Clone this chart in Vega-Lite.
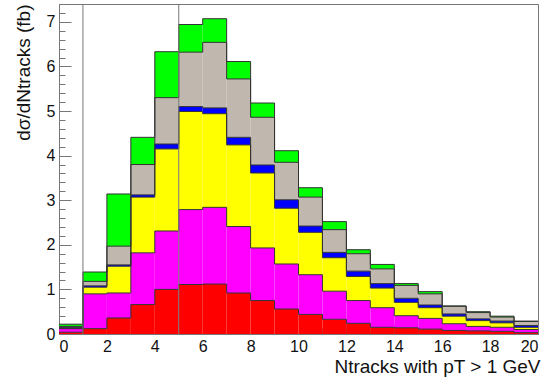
{
  "$schema": "https://vega.github.io/schema/vega-lite/v6.json",
  "width": 479,
  "height": 330,
  "autosize": "none",
  "padding": {"left": 59, "top": 4, "right": 7, "bottom": 51},
  "background": "white",
  "config": {
    "view": {"stroke": "#777", "strokeWidth": 1},
    "axis": {
      "labelFont": "Liberation Sans", "labelFontSize": 16, "labelColor": "#111",
      "titleFont": "Liberation Sans", "titleFontSize": 19, "titleFontWeight": "normal", "titleColor": "#111",
      "domainColor": "#777", "tickColor": "#777", "grid": false
    }
  },
  "data": {"values": [
    {"lo":0,"hi":1,"k":1,"v":0.04},{"lo":0,"hi":1,"k":2,"v":0.08},{"lo":0,"hi":1,"k":3,"v":0.01},{"lo":0,"hi":1,"k":4,"v":0.02},{"lo":0,"hi":1,"k":5,"v":0.02},{"lo":0,"hi":1,"k":6,"v":0.05},
    {"lo":1,"hi":2,"k":1,"v":0.12},{"lo":1,"hi":2,"k":2,"v":0.78},{"lo":1,"hi":2,"k":3,"v":0.15},{"lo":1,"hi":2,"k":4,"v":0.03},{"lo":1,"hi":2,"k":5,"v":0.10},{"lo":1,"hi":2,"k":6,"v":0.21},
    {"lo":2,"hi":3,"k":1,"v":0.36},{"lo":2,"hi":3,"k":2,"v":0.56},{"lo":2,"hi":3,"k":3,"v":0.60},{"lo":2,"hi":3,"k":4,"v":0.03},{"lo":2,"hi":3,"k":5,"v":0.42},{"lo":2,"hi":3,"k":6,"v":1.17},
    {"lo":3,"hi":4,"k":1,"v":0.66},{"lo":3,"hi":4,"k":2,"v":1.16},{"lo":3,"hi":4,"k":3,"v":1.25},{"lo":3,"hi":4,"k":4,"v":0.05},{"lo":3,"hi":4,"k":5,"v":0.68},{"lo":3,"hi":4,"k":6,"v":0.61},
    {"lo":4,"hi":5,"k":1,"v":1.00},{"lo":4,"hi":5,"k":2,"v":1.31},{"lo":4,"hi":5,"k":3,"v":1.84},{"lo":4,"hi":5,"k":4,"v":0.11},{"lo":4,"hi":5,"k":5,"v":1.04},{"lo":4,"hi":5,"k":6,"v":1.03},
    {"lo":5,"hi":6,"k":1,"v":1.11},{"lo":5,"hi":6,"k":2,"v":1.68},{"lo":5,"hi":6,"k":3,"v":2.20},{"lo":5,"hi":6,"k":4,"v":0.11},{"lo":5,"hi":6,"k":5,"v":1.22},{"lo":5,"hi":6,"k":6,"v":0.62},
    {"lo":6,"hi":7,"k":1,"v":1.12},{"lo":6,"hi":7,"k":2,"v":1.72},{"lo":6,"hi":7,"k":3,"v":2.10},{"lo":6,"hi":7,"k":4,"v":0.13},{"lo":6,"hi":7,"k":5,"v":1.47},{"lo":6,"hi":7,"k":6,"v":0.53},
    {"lo":7,"hi":8,"k":1,"v":0.92},{"lo":7,"hi":8,"k":2,"v":1.49},{"lo":7,"hi":8,"k":3,"v":1.83},{"lo":7,"hi":8,"k":4,"v":0.17},{"lo":7,"hi":8,"k":5,"v":1.31},{"lo":7,"hi":8,"k":6,"v":0.39},
    {"lo":8,"hi":9,"k":1,"v":0.75},{"lo":8,"hi":9,"k":2,"v":1.18},{"lo":8,"hi":9,"k":3,"v":1.68},{"lo":8,"hi":9,"k":4,"v":0.18},{"lo":8,"hi":9,"k":5,"v":1.07},{"lo":8,"hi":9,"k":6,"v":0.32},
    {"lo":9,"hi":10,"k":1,"v":0.56},{"lo":9,"hi":10,"k":2,"v":1.01},{"lo":9,"hi":10,"k":3,"v":1.25},{"lo":9,"hi":10,"k":4,"v":0.19},{"lo":9,"hi":10,"k":5,"v":0.84},{"lo":9,"hi":10,"k":6,"v":0.26},
    {"lo":10,"hi":11,"k":1,"v":0.44},{"lo":10,"hi":11,"k":2,"v":0.89},{"lo":10,"hi":11,"k":3,"v":0.95},{"lo":10,"hi":11,"k":4,"v":0.14},{"lo":10,"hi":11,"k":5,"v":0.65},{"lo":10,"hi":11,"k":6,"v":0.21},
    {"lo":11,"hi":12,"k":1,"v":0.33},{"lo":11,"hi":12,"k":2,"v":0.63},{"lo":11,"hi":12,"k":3,"v":0.75},{"lo":11,"hi":12,"k":4,"v":0.12},{"lo":11,"hi":12,"k":5,"v":0.51},{"lo":11,"hi":12,"k":6,"v":0.18},
    {"lo":12,"hi":13,"k":1,"v":0.24},{"lo":12,"hi":13,"k":2,"v":0.51},{"lo":12,"hi":13,"k":3,"v":0.54},{"lo":12,"hi":13,"k":4,"v":0.12},{"lo":12,"hi":13,"k":5,"v":0.39},{"lo":12,"hi":13,"k":6,"v":0.09},
    {"lo":13,"hi":14,"k":1,"v":0.15},{"lo":13,"hi":14,"k":2,"v":0.44},{"lo":13,"hi":14,"k":3,"v":0.44},{"lo":13,"hi":14,"k":4,"v":0.10},{"lo":13,"hi":14,"k":5,"v":0.33},{"lo":13,"hi":14,"k":6,"v":0.10},
    {"lo":14,"hi":15,"k":1,"v":0.14},{"lo":14,"hi":15,"k":2,"v":0.27},{"lo":14,"hi":15,"k":3,"v":0.30},{"lo":14,"hi":15,"k":4,"v":0.09},{"lo":14,"hi":15,"k":5,"v":0.29},{"lo":14,"hi":15,"k":6,"v":0.04},
    {"lo":15,"hi":16,"k":1,"v":0.11},{"lo":15,"hi":16,"k":2,"v":0.24},{"lo":15,"hi":16,"k":3,"v":0.24},{"lo":15,"hi":16,"k":4,"v":0.06},{"lo":15,"hi":16,"k":5,"v":0.25},{"lo":15,"hi":16,"k":6,"v":0.05},
    {"lo":16,"hi":17,"k":1,"v":0.08},{"lo":16,"hi":17,"k":2,"v":0.15},{"lo":16,"hi":17,"k":3,"v":0.17},{"lo":16,"hi":17,"k":4,"v":0.05},{"lo":16,"hi":17,"k":5,"v":0.17},{"lo":16,"hi":17,"k":6,"v":0.01},
    {"lo":17,"hi":18,"k":1,"v":0.07},{"lo":17,"hi":18,"k":2,"v":0.10},{"lo":17,"hi":18,"k":3,"v":0.13},{"lo":17,"hi":18,"k":4,"v":0.04},{"lo":17,"hi":18,"k":5,"v":0.14},{"lo":17,"hi":18,"k":6,"v":0.02},
    {"lo":18,"hi":19,"k":1,"v":0.06},{"lo":18,"hi":19,"k":2,"v":0.09},{"lo":18,"hi":19,"k":3,"v":0.10},{"lo":18,"hi":19,"k":4,"v":0.04},{"lo":18,"hi":19,"k":5,"v":0.09},{"lo":18,"hi":19,"k":6,"v":0.02},
    {"lo":19,"hi":20,"k":1,"v":0.03},{"lo":19,"hi":20,"k":2,"v":0.07},{"lo":19,"hi":20,"k":3,"v":0.05},{"lo":19,"hi":20,"k":4,"v":0.04},{"lo":19,"hi":20,"k":5,"v":0.09},{"lo":19,"hi":20,"k":6,"v":0.01}
  ]},
  "transform": [
    {"stack": "v", "groupby": ["lo"], "sort": [{"field": "k", "order": "ascending"}], "as": ["y0", "y1"]},
    {"window": [{"op": "lag", "field": "y1", "as": "prev"}], "groupby": ["k"], "sort": [{"field": "lo", "order": "ascending"}]}
  ],
  "resolve": {"axis": {"x": "independent", "y": "independent"}},
  "layer": [
    {
      "mark": {"type": "bar", "strokeWidth": 0},
      "encoding": {
        "x": {"field": "lo", "type": "quantitative", "scale": {"domain": [0, 20], "nice": false},
              "axis": {"orient": "bottom", "values": [0,2,4,6,8,10,12,14,16,18,20], "tickSize": -10, "labelPadding": 14, "domain": true,
                       "title": "Ntracks with pT > 1 GeV", "titleAnchor": "end", "titleAlign": "right", "titleX": 481, "titlePadding": 3}},
        "x2": {"field": "hi"},
        "y": {"field": "y1", "type": "quantitative", "scale": {"domain": [0, 7.4], "nice": false, "zero": true},
              "axis": {"orient": "left", "values": [0,1,2,3,4,5,6,7], "tickSize": -12, "labelPadding": 16, "domain": true,
                       "title": "dσ/dNtracks (fb)", "titleAnchor": "end", "titlePadding": 13}},
        "y2": {"field": "y0"},
        "color": {"field": "k", "type": "ordinal", "legend": null,
                  "scale": {"domain": [1,2,3,4,5,6], "range": ["#ff0000", "#ff00ff", "#ffff00", "#0000ff", "#c0b7ae", "#00ff00"]}}
      }
    },
    {
      "mark": {"type": "rule", "color": "#333", "strokeWidth": 1},
      "encoding": {
        "x": {"field": "lo", "type": "quantitative", "scale": {"domain": [0, 20], "nice": false},
              "axis": {"orient": "bottom", "values": [0.5,1,1.5,2.5,3,3.5,4.5,5,5.5,6.5,7,7.5,8.5,9,9.5,10.5,11,11.5,12.5,13,13.5,14.5,15,15.5,16.5,17,17.5,18.5,19,19.5], "tickSize": -6, "labels": false, "domain": false, "title": null}},
        "x2": {"field": "hi"},
        "y": {"field": "y1", "type": "quantitative", "scale": {"domain": [0, 7.4], "nice": false},
              "axis": {"orient": "left", "values": [0.2,0.4,0.6,0.8,1.2,1.4,1.6,1.8,2.2,2.4,2.6,2.8,3.2,3.4,3.6,3.8,4.2,4.4,4.6,4.8,5.2,5.4,5.6,5.8,6.2,6.4,6.6,6.8,7.2,7.4], "tickSize": -6, "labels": false, "domain": false, "title": null}}
      }
    },
    {
      "transform": [{"filter": "datum.prev != null"}],
      "mark": {"type": "rule", "color": "#333", "strokeWidth": 1},
      "encoding": {
        "x": {"field": "lo", "type": "quantitative", "axis": null},
        "y": {"field": "prev", "type": "quantitative", "axis": null},
        "y2": {"field": "y1"}
      }
    },
    {
      "data": {"values": [{"cut": 1}, {"cut": 5}]},
      "mark": {"type": "rule", "color": "#777", "strokeWidth": 1},
      "encoding": {
        "x": {"field": "cut", "type": "quantitative", "axis": null}
      }
    }
  ]
}
